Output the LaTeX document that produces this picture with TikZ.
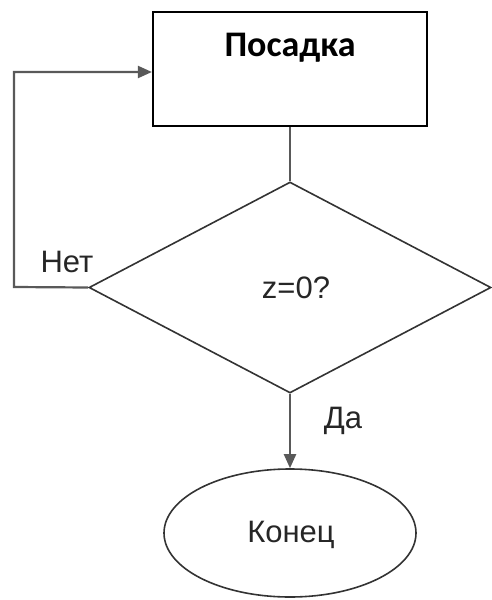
\documentclass[tikz,border=0pt]{standalone}
\usepackage{fontspec}
\setmainfont{Liberation Sans}
\newfontfamily\titlefont{Carlito}
\usetikzlibrary{shapes.geometric,arrows.meta}
\begin{document}
\begin{tikzpicture}[x=1pt,y=-1pt,
  lbl/.style={font=\fontsize{31}{31}\selectfont, text=black!85, inner sep=0},
  conn/.style={draw=black!65, line width=2.2pt},
  arr/.style={conn, -{Triangle[length=14pt,width=12pt]}},
  box/.style={draw=black, line width=2.2pt, rectangle, minimum width=274pt, minimum height=114pt, inner sep=0},
  dec/.style={draw=black!80, line width=1.6pt, diamond, minimum width=402pt, minimum height=211pt, inner sep=0},
  term/.style={draw=black!80, line width=1.6pt, ellipse, minimum width=252pt, minimum height=128pt, inner sep=0}]
\useasboundingbox (0,0) rectangle (492,600);
\node[box] (posadka) at (290,69) {};
\node[font=\titlefont\bfseries\fontsize{36}{36}\selectfont, inner sep=0] (title) at (290,48) {Посадка};
\node[dec] (cond) at (290,287.5) {};
\node[lbl] (ztext) at (296,288) {z=0?};
\node[term] (end) at (290,533) {};
\node[lbl] (kon) at (291,535) {Конец};
\coordinate (c1) at (14,287);
\coordinate (c2) at (14,72);
\node[lbl] (net) at (67,262) {Нет};
\node[lbl] (da) at (343,421) {Да};
\draw[conn] (posadka.south) -- (cond.north);
\draw[arr] (cond.west) -- (c1) -- (c2) -- (posadka.west |- c2);
\draw[arr] (cond.south) -- (end.north);
\end{tikzpicture}
\end{document}
